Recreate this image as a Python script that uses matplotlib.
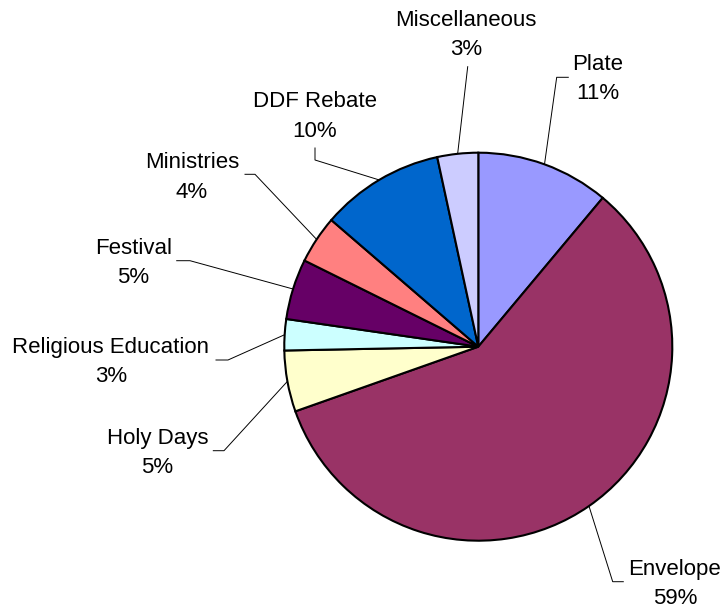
import numpy as np
import matplotlib
matplotlib.use('Agg')
from matplotlib import pyplot as plt

W, H = 726, 612

# slices, clockwise from 12 o'clock
names = ['Plate', 'Envelope', 'Holy Days', 'Religious Education',
         'Festival', 'Ministries', 'DDF Rebate', 'Miscellaneous']
values = [11.1, 58.6, 5.1, 2.6, 5.05, 4.0, 10.3, 3.4]
colors = ['#9999FF', '#993366', '#FFFFCC', '#CCFFFF',
          '#660066', '#FF8080', '#0066CC', '#CCCCFF']

# label layout in pixels: text x centre, baseline of name, baseline of pct
labelX = [598, 675, 157.5, 111, 133.5, 192, 315, 466]
nameY = [70, 575, 444.3, 353.3, 254.3, 168.3, 107.3, 26]
pctY = [99.3, 604, 473.3, 381.7, 283.3, 197.7, 136.7, 55]
# leader line: start point near the text, then elbow, then wedge edge
leadStart = [(568.3, 77.3), (623.3, 581.7), (213.3, 450.7), (216, 360),
             (176.7, 260.7), (245, 174.3), (315, 148), (467.7, 66.7)]
leadElbow = [(556.7, 77.3), (612.7, 581.7), (224, 450.7), (228, 360),
             (190, 260.7), (255, 174.3), (315, 160), (467.7, 66.7)]

cx, cy, rad = 478.3, 346.7, 194

def py(y):
    return H - y

plt.rcParams['font.family'] = ['Liberation Sans', 'DejaVu Sans']

fig = plt.figure(figsize=(W/100, H/100), dpi=100)
ax = fig.add_axes([0, 0, 1, 1])
ax.set_xlim(0, W)
ax.set_ylim(0, H)
ax.set_aspect('equal')
ax.axis('off')

wedges, _ = ax.pie(values, colors=colors, startangle=90, counterclock=False,
                   center=(cx, py(cy)), radius=rad, frame=True,
                   wedgeprops=dict(edgecolor='black', linewidth=1.5))
ax.set_xlim(0, W)
ax.set_ylim(0, H)
ax.axis('off')

total = sum(values)
for i, w in enumerate(wedges):
    pct = '%d%%' % round(values[i]/total*100)
    ax.text(labelX[i], py(nameY[i]), names[i], ha='center', va='baseline',
            fontsize=16, color='black')
    ax.text(labelX[i], py(pctY[i]), pct, ha='center', va='baseline',
            fontsize=16, color='black')
    mid = np.deg2rad((w.theta1 + w.theta2) / 2)
    ex = cx + rad*np.cos(mid)
    ey = py(cy) + rad*np.sin(mid)
    xs = [leadStart[i][0], leadElbow[i][0], ex]
    ys = [py(leadStart[i][1]), py(leadElbow[i][1]), ey]
    ax.plot(xs, ys, color='black', linewidth=0.7, zorder=0.5)

fig.savefig('out.png', dpi=100)
plt.close()
